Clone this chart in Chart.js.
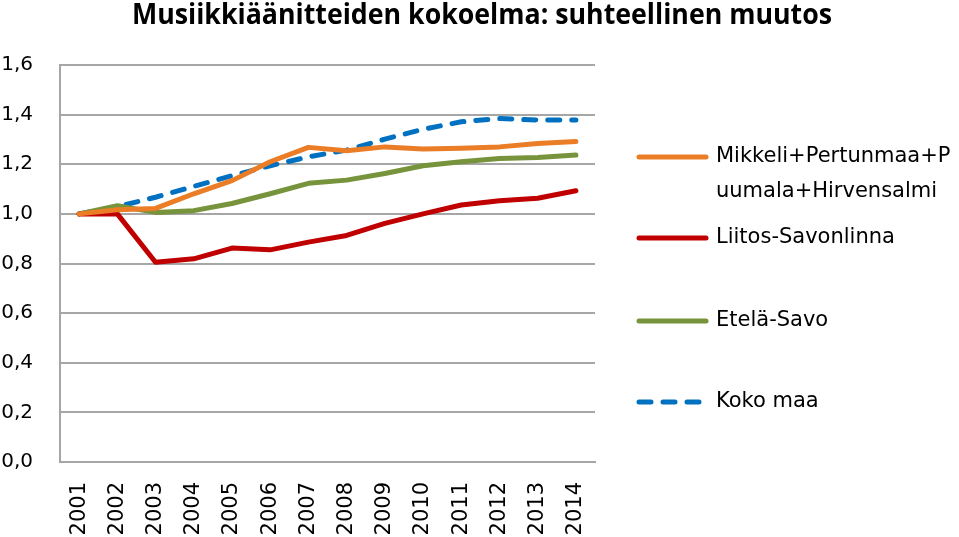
<!DOCTYPE html>
<html lang="fi">
  <head>
    <meta charset="UTF-8" />
    <title>Musiikkiäänitteiden kokoelma</title>
    <script src="https://cdn.jsdelivr.net/npm/chart.js/dist/chart.umd.min.js"></script>
    <style>
      html, body { margin: 0; padding: 0; background: #fff; }
      #wrap { width: 959px; height: 537px; position: relative; }
    </style>
  </head>
  <body>
    <div id="wrap">
      <canvas id="myChart" width="959" height="537"></canvas>
    </div>
    <script>
      // data
      const years = ['2001','2002','2003','2004','2005','2006','2007','2008','2009','2010','2011','2012','2013','2014'];
      const mikkeli = [1.0, 1.017, 1.022, 1.081, 1.134, 1.21, 1.268, 1.254, 1.27, 1.261, 1.264, 1.27, 1.284, 1.292];
      const savonlinna = [1.0, 1.0, 0.805, 0.819, 0.862, 0.855, 0.886, 0.913, 0.962, 1.0, 1.036, 1.053, 1.063, 1.093];
      const etelaSavo = [1.0, 1.033, 1.006, 1.013, 1.042, 1.081, 1.123, 1.136, 1.163, 1.194, 1.21, 1.223, 1.227, 1.237];
      const kokoMaa = [1.0, 1.029, 1.067, 1.111, 1.154, 1.194, 1.23, 1.257, 1.301, 1.341, 1.371, 1.384, 1.378, 1.378];
      const seriesNames = ['Mikkeli+Pertunmaa+Puumala+Hirvensalmi', 'Liitos-Savonlinna', 'Etelä-Savo', 'Koko maa'];
      const legendLines = [['Mikkeli+Pertunmaa+P', 'uumala+Hirvensalmi'], ['Liitos-Savonlinna'], ['Etelä-Savo'], ['Koko maa']];
      const yTicks = [0, 0.2, 0.4, 0.6, 0.8, 1.0, 1.2, 1.4, 1.6];
      const title = 'Musiikkiäänitteiden kokoelma: suhteellinen muutos';

      const colors = ['#ea7d26', '#c00000', '#77933c', '#0070c0'];
      const gridColor = '#a6a6a6';

      Chart.defaults.font.family = "'DejaVu Sans', sans-serif";
      Chart.defaults.color = '#000';

      // title + legend drawn by hand so they sit where the original has them
      const decorations = {
        id: 'decorations',
        afterDraw(chart) {
          const ctx = chart.ctx;
          ctx.save();
          ctx.fillStyle = '#000';
          ctx.font = "bold 28px 'Open Sans', sans-serif";
          ctx.textAlign = 'center';
          ctx.textBaseline = 'alphabetic';
          ctx.fillText(title, 482, 24, 700);

          const rowY = [157, 238, 321, 402];
          ctx.font = "21px 'DejaVu Sans', sans-serif";
          ctx.textAlign = 'left';
          ctx.textBaseline = 'middle';
          chart.data.datasets.forEach((ds, i) => {
            const y = rowY[i];
            ctx.strokeStyle = ds.borderColor;
            ctx.lineWidth = 5;
            ctx.lineCap = 'round';
            ctx.setLineDash(ds.borderDash || []);
            ctx.beginPath();
            ctx.moveTo(639, y);
            ctx.lineTo(706, y);
            ctx.stroke();
            ctx.setLineDash([]);
            legendLines[i].forEach((t, j) => {
              ctx.fillText(t, 716, y + j * 35);
            });
          });
          ctx.restore();
        }
      };

      const mkSet = (label, data, color, dash) => ({
        label,
        data,
        borderColor: color,
        backgroundColor: color,
        borderWidth: 5,
        borderDash: dash,
        borderCapStyle: 'round',
        borderJoinStyle: 'round',
        pointRadius: 0,
        tension: 0,
        fill: false
      });

      const data = {
        labels: years,
        datasets: [
          mkSet(seriesNames[0], mikkeli, colors[0]),
          mkSet(seriesNames[1], savonlinna, colors[1]),
          mkSet(seriesNames[2], etelaSavo, colors[2]),
          mkSet(seriesNames[3], kokoMaa, colors[3], [12, 12])
        ]
      };

      const config = {
        type: 'line',
        data,
        options: {
          responsive: false,
          animation: false,
          layout: { padding: { top: 65, right: 364, left: 0, bottom: 0 } },
          plugins: {
            legend: { display: false },
            title: { display: false },
            tooltip: { enabled: false }
          },
          scales: {
            x: {
              offset: true,
              grid: { display: false, drawTicks: false },
              border: { display: true, color: gridColor, width: 2 },
              ticks: {
                minRotation: 90,
                maxRotation: 90,
                padding: 20,
                font: { size: 21 }
              },
              afterFit(scale) { scale.height = 75; }
            },
            y: {
              min: 0,
              max: 1.6,
              afterBuildTicks(scale) { scale.ticks = yTicks.map(v => ({ value: v })); },
              grid: { color: gridColor, lineWidth: 2, drawTicks: false },
              border: { display: true, color: gridColor, width: 2 },
              ticks: {
                padding: 27,
                font: { size: 20 },
                callback: v => v.toFixed(1).replace('.', ',')
              },
              afterFit(scale) { scale.width = 60; }
            }
          }
        },
        plugins: [decorations]
      };

      const myChart = new Chart(document.getElementById('myChart'), config);
    </script>
  </body>
</html>
